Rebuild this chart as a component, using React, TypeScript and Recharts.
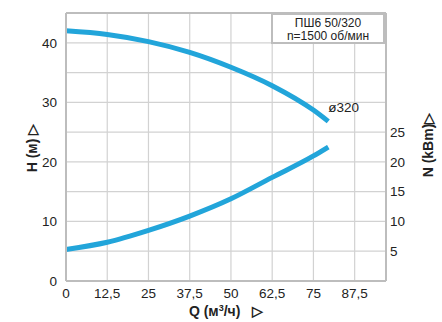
import { ComposedChart, Line, XAxis, YAxis, ReferenceLine } from "recharts";

// Pump ПШ6 50/320, impeller ø320, 1500 rpm
const flow = [0, 12.5, 25, 37.5, 50, 62.5, 75, 79.5];
const head = [42.0, 41.4, 40.2, 38.4, 35.9, 32.8, 28.7, 26.8];
const power = [5.3, 6.5, 8.5, 10.9, 13.8, 17.4, 21.0, 22.5];

const qTicks = [0, 12.5, 25, 37.5, 50, 62.5, 75, 87.5];
const hTicks = [0, 10, 20, 30, 40];
const nTicks = [5, 10, 15, 20, 25];
const gridH = [5, 10, 15, 20, 25, 30, 35, 40];
const gridV = [12.5, 25, 37.5, 50, 62.5, 75, 87.5];

const Q_MAX = 97;
const Y_MAX = 45;

const data = flow.map((q, i) => ({ q, h: head[i], n: power[i] }));

// grid and frame segments, drawn through the same scales as the curves
const hSeg = (v: number) => [{ q: 0, g: v }, { q: Q_MAX, g: v }];
const vSeg = (v: number) => [{ q: v, g: 0 }, { q: v, g: Y_MAX }];

const FONT = "'Liberation Sans', Arial, sans-serif";
const CURVE = "#22a5da";
const BORDER = "#bdbdbd";
const GRID = "#d2d2d2";
const tick = { fontSize: 13.5, fill: "#222", fontFamily: FONT };

const fmt = (v: number) => String(v).replace(".", ",");

const axisTitle: React.CSSProperties = {
  position: "absolute",
  fontFamily: FONT,
  fontWeight: 700,
  fontSize: 14,
  color: "#222",
  whiteSpace: "nowrap",
};

const segProps = { dataKey: "g", type: "linear" as const, dot: false, activeDot: false, isAnimationActive: false };

export default function App() {
  const last = data.length - 1;
  return (
    <div style={{ position: "absolute", left: 0, top: 0, width: 442, height: 322 }}>
      <ComposedChart width={442} height={322} data={data} margin={{ top: 13, right: 56, bottom: 17, left: 30 }}>
        <XAxis
          dataKey="q"
          type="number"
          domain={[0, Q_MAX]}
          ticks={qTicks}
          tickFormatter={fmt}
          tick={tick}
          tickLine={false}
          tickSize={5}
          tickMargin={2}
          height={24}
          axisLine={{ stroke: BORDER, strokeWidth: 2 }}
        />
        <YAxis
          domain={[0, Y_MAX]}
          ticks={hTicks}
          tick={tick}
          tickLine={false}
          tickSize={6}
          tickMargin={3}
          width={36}
          axisLine={{ stroke: BORDER, strokeWidth: 2 }}
        />
        {gridH.map((v) => (
          <Line key={`gh${v}`} data={hSeg(v)} stroke={GRID} strokeWidth={1.2} {...segProps} />
        ))}
        {gridV.map((v) => (
          <Line key={`gv${v}`} data={vSeg(v)} stroke={GRID} strokeWidth={1.2} {...segProps} />
        ))}
        {/* frame: top and right edges */}
        <Line data={hSeg(Y_MAX)} stroke={BORDER} strokeWidth={2} {...segProps} />
        <Line data={vSeg(Q_MAX)} stroke={BORDER} strokeWidth={2} {...segProps} />
        {/* N scale on the right shares the H scale */}
        {nTicks.map((v) => (
          <ReferenceLine
            key={`n${v}`}
            y={v}
            stroke="none"
            label={{ value: String(v), position: "right", offset: 4, fill: "#222", fontSize: 13.5, fontFamily: FONT }}
          />
        ))}
        <Line
          dataKey="h"
          type="monotone"
          stroke={CURVE}
          strokeWidth={5}
          dot={false}
          isAnimationActive={false}
          label={({ x, y, index }: any) =>
            index === last ? (
              <text key="d" x={x} y={y - 9} fontSize={13.5} fontFamily={FONT} fill="#222">
                ø320
              </text>
            ) : null
          }
        />
        <Line
          dataKey="n"
          type="monotone"
          stroke={CURVE}
          strokeWidth={5}
          dot={false}
          isAnimationActive={false}
        />
      </ComposedChart>

      <div
        style={{
          position: "absolute",
          left: 271,
          top: 13,
          width: 114,
          height: 31,
          boxSizing: "border-box",
          border: `2px solid ${BORDER}`,
          background: "#fff",
          fontFamily: FONT,
          fontSize: 12,
          lineHeight: "13px",
          color: "#222",
          textAlign: "center",
          paddingTop: 2,
        }}
      >
        <div>ПШ6 50/320</div>
        <div>n=1500 об/мин</div>
      </div>

      <div style={{ ...axisTitle, left: 32, top: 148, transform: "translate(-50%, -50%) rotate(-90deg)" }}>
        H (м) ▷
      </div>
      <div style={{ ...axisTitle, left: 428, top: 145, transform: "translate(-50%, -50%) rotate(-90deg)" }}>
        N (kBm)▷
      </div>
      <div style={{ ...axisTitle, left: 226, top: 311, transform: "translate(-50%, -50%)" }}>
        Q (м<sup style={{ fontSize: 9 }}>3</sup>/ч)&nbsp;&nbsp;&nbsp;▷
      </div>
    </div>
  );
}
